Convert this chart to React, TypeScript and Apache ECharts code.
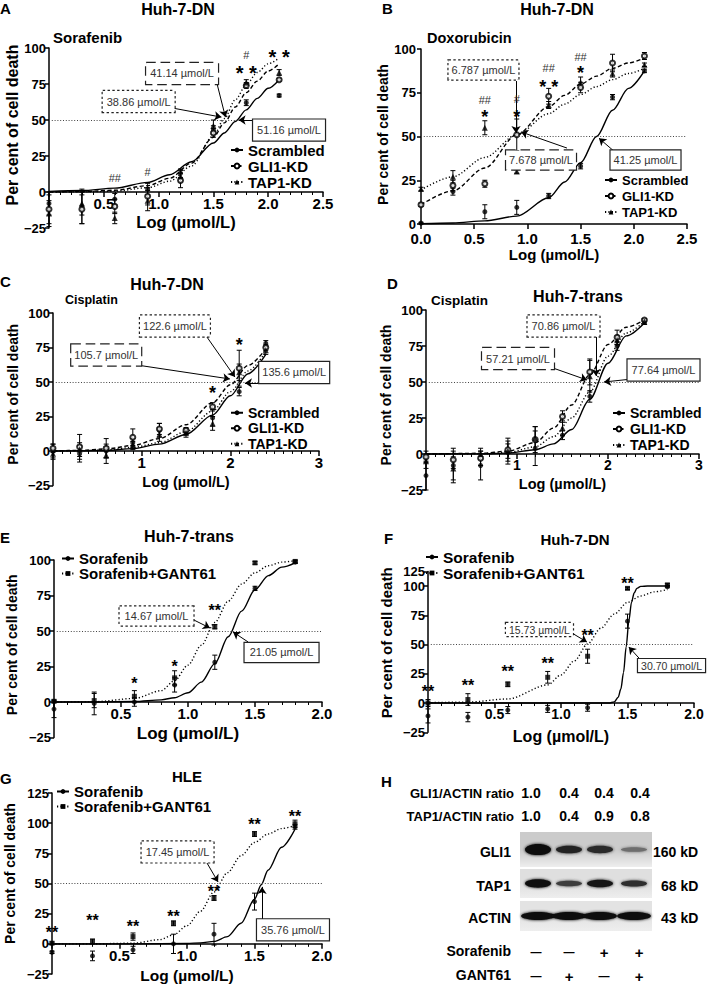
import React, { useEffect, useRef } from "react";
import * as echarts from "echarts";

const FONT = "'Liberation Sans', Arial, Helvetica, sans-serif";

// ---------- shared categories ----------
const DOSES_9 = [0, 0.3, 0.6, 0.9, 1.2, 1.5, 1.8, 2.1, 2.4];
const DOSES_8 = [0, 0.3, 0.6, 0.9, 1.2, 1.5, 1.8, 2.1];
const DOSES_7 = [0, 0.3, 0.6, 0.9, 1.2, 1.5, 1.8];
const KD_NAMES = ["Scrambled", "GLI1-KD", "TAP1-KD"];
const SORA_NAMES = ["Sorafenib", "Sorafenib+GANT61"];
const X_NAME = "Log (µmol/L)";
const Y_NAME = "Per cent of cell death";

// ---------- Panel A: Sorafenib, Huh-7-DN ----------
const A_SCR = [-8, -10, -5, 2, 13, 43, 62, 67];
const A_SCR_SD = [8, 12, 4, 4, 3, 3, 2, 1];
const A_GLI = [-12, -12, -10, -3, 8, 41, 74, 78];
const A_GLI_SD = [10, 10, 5, 6, 5, 3, 2, 1];
const A_TAP = [-15, -8, -18, -6, 11, 46, 76, 83];
const A_TAP_SD = [9, 8, 4, 7, 4, 4, 2, 2];
const A_FIT_X = [0, 0.3, 0.6, 0.9, 1.1, 1.3, 1.5, 1.6, 1.7, 1.8, 1.9, 2.0, 2.1];
const A_FIT_SCR = [0.4, 1, 2.7, 6.7, 12, 21, 34, 41, 49, 57, 65, 72, 78];
const A_FIT_GLI = [0, 0.3, 1.2, 4.4, 9.5, 20, 38, 48, 59, 69, 77, 84, 89];
const A_FIT_TAP = [0, 0.1, 0.6, 3, 7.5, 18, 39, 51, 64, 74.5, 83, 89, 93];
const A_IC50 = ["51.16 µmol/L", "41.14 µmol/L", "38.86 µmol/L"];
const A_SIG: [number, number, string][] = [
  [0.6, 10, "##"], [0.9, 14, "#"], [1.8, 95, "#"], [1.8, 86, "* *"], [2.1, 104, "##"], [2.1, 97, "* *"],
];

// ---------- Panel B: Doxorubicin, Huh-7-DN ----------
const B_SCR = [0.5, 18.5, 7, 9.5, 16, 33, 72.5, 87.5];
const B_SCR_SD = [0.5, 2, 4, 4, 1.5, 1.5, 1.5, 1];
const B_GLI = [11, 22, 23, 51, 73, 78, 92, 96];
const B_GLI_SD = [1, 3, 2, 9, 4.5, 3, 5, 2];
const B_TAP = [20, 27, 55, 30, 68, 81, 86, 91];
const B_TAP_SD = [1, 3.5, 4, 1, 2, 3, 2, 1];
const B_FIT_X = [0, 0.3, 0.6, 0.9, 1.2, 1.35, 1.5, 1.65, 1.8, 1.95, 2.1];
const B_FIT_SCR = [0.2, 0.6, 1.8, 4.5, 15, 24, 35, 50, 65, 77.5, 87.5];
const B_FIT_GLI = [11, 19, 32, 51, 67, 73.5, 80, 84.5, 89, 92, 95];
const B_FIT_TAP = [19.5, 27, 38, 51, 63, 68.5, 74, 78.5, 82.5, 86, 89];
const B_IC50 = ["41.25 µmol/L", "7.678 µmol/L", "6.787 µmol/L"];
const B_SIG: [number, number, string][] = [
  [0.6, 71, "##"], [0.6, 64, "*"], [0.9, 71.5, "#"], [0.9, 64, "*"],
  [1.2, 89, "##"], [1.2, 81, "* *"], [1.5, 95.5, "##"], [1.5, 89, "*"],
  [1.8, 109, "##"], [1.8, 102, "*"], [2.1, 109, "##"], [2.1, 102, "*"],
];

// ---------- Panel C: Cisplatin, Huh-7-DN ----------
const C_SCR = [0, -2, 0, 6, 15, 14, 24, 43, 78];
const C_SCR_SD = [5, 6, 5, 3, 5, 2, 6, 3, 2];
const C_GLI = [2, 3, 2, 10, 16, 15, 32, 60, 75];
const C_GLI_SD = [3, 9, 7, 6, 4, 2, 3, 13, 2];
const C_TAP = [-2, 1, -3, 4, 12, 13, 20, 57, 73];
const C_TAP_SD = [4, 5, 6, 3, 5, 3, 5, 6, 3];
const C_FIT_X = [0, 0.3, 0.6, 0.9, 1.2, 1.5, 1.8, 2.0, 2.2, 2.4];
const C_FIT_SCR = [0, 0.1, 0.4, 1.7, 5, 12, 26, 40, 56, 70];
const C_FIT_GLI = [0.1, 0.4, 1.5, 4, 9, 19, 35, 48, 62, 74];
const C_FIT_TAP = [0, 0.2, 0.9, 2.6, 6, 14, 29, 43, 58, 72];
const C_IC50 = ["135.6 µmol/L", "105.7 µmol/L", "122.6 µmol/L"];
const C_SIG: [number, number, string][] = [[1.8, 45.6, "*"], [2.1, 80, "*"]];

// ---------- Panel D: Cisplatin, Huh-7-trans ----------
const D_SCR = [-15, -8, -8, 1, 4, 13, 40, 75, 92];
const D_SCR_SD = [10, 12, 10, 8, 12, 3, 4, 3, 2];
const D_GLI = [-2, -4, -3, 3, 10, 26, 57, 81, 93];
const D_GLI_SD = [4, 6, 5, 8, 9, 4, 9, 5, 1];
const D_TAP = [-5, -10, 0, 2, 11, 18, 54, 79, 92];
const D_TAP_SD = [5, 8, 4, 5, 8, 5, 11, 3, 2];
const D_FIT_X = [0, 0.6, 0.9, 1.2, 1.4, 1.6, 1.8, 2.0, 2.2, 2.4];
const D_FIT_SCR = [0, 0.1, 0.6, 3, 7, 17, 38, 63, 82, 91];
const D_FIT_GLI = [0, 0.5, 2, 8, 18, 34, 55, 76, 88, 93];
const D_FIT_TAP = [0, 0.2, 1, 5, 12, 25, 43, 68, 84, 92];
const D_IC50 = ["77.64 µmol/L", "57.21 µmol/L", "70.86 µmol/L"];
const D_SIG: [number, number, string][] = [];

// ---------- Panel E: Huh-7-trans, Sorafenib ± GANT61 ----------
const E_SOR = [-5, -1, 0, 12, 28, 80, 98.5];
const E_SOR_SD = [6, 8, 3, 5, 5, 1.5, 1];
const E_GAN = [0.5, 1, 4, 17, 53, 98, 99];
const E_GAN_SD = [1, 5, 4, 5, 1.5, 1, 1];
const E_FIT_X = [0, 0.3, 0.6, 0.8, 0.9, 1.0, 1.1, 1.2, 1.3, 1.4, 1.5, 1.6, 1.7, 1.8];
const E_FIT_SOR = [0, 0, 0.3, 1.5, 3, 6.5, 14, 27, 46, 64, 79, 89, 95, 98];
const E_FIT_GAN = [0, 0.2, 2.5, 8, 15, 26, 40, 56, 71, 83, 91, 96, 98.5, 99.5];
const E_IC50 = ["21.05 µmol/L", "14.67 µmol/L"];
const E_SIG: [number, number, string][] = [
  [0.6, 15.5, "*"], [0.9, 27.5, "*"], [1.2, 67, "**"], [1.5, 108, "**"], [1.8, 108, "**"],
];

// ---------- Panel F: Huh-7-DN, Sorafenib ± GANT61 ----------
const F_SOR = [-11, -12, -6, -5, -4, 70, 99.5];
const F_SOR_SD = [6, 4, 3, 3, 3, 6, 1];
const F_GAN = [0, 3, 16, 22, 40, 98, 101];
const F_GAN_SD = [3, 5, 2, 5, 6, 1, 1];
const F_FIT_SOR_X = [0, 0.6, 1.2, 1.36, 1.4, 1.43, 1.45, 1.47, 1.49, 1.51, 1.53, 1.55, 1.57, 1.6, 1.65, 1.8];
const F_FIT_SOR = [0, 0, 0, 0, 1, 5, 12, 26, 48, 70, 86, 94, 98, 99.7, 100, 100];
const F_FIT_GAN_X = [0, 0.3, 0.6, 0.9, 1.0, 1.1, 1.2, 1.3, 1.4, 1.5, 1.6, 1.7, 1.8];
const F_FIT_GAN = [0.3, 0.8, 3.5, 15.5, 24, 36, 50.5, 64, 76, 86, 91.5, 95, 97];
const F_IC50 = ["30.70 µmol/L", "15.73 µmol/L"];
const F_SIG: [number, number, string][] = [
  [0, 13, "**"], [0.3, 18, "**"], [0.6, 30, "**"], [0.9, 37, "**"], [1.2, 61, "**"], [1.5, 106, "**"], [1.8, 114, "**"],
];
const F_Y_TICKS = [-25, 0, 25, 50, 75, 100, 112.5];

// ---------- Panel G: HLE, Sorafenib ± GANT61 ----------
const G_SOR = [-7, -10, -5, 0, 8, 35, 97];
const G_SOR_SD = [1, 4, 3, 8, 9, 7, 2];
const G_GAN = [0.5, 2, 6, 17, 38, 91, 99.5];
const G_GAN_SD = [1, 2, 3, 2, 2, 2, 3];
const G_FIT_SOR_X = [0, 0.6, 1.0, 1.1, 1.2, 1.3, 1.4, 1.5, 1.55, 1.6, 1.7, 1.8];
const G_FIT_SOR = [0, 0, 0.3, 0.8, 2, 6, 17, 37, 49, 61, 80, 95];
const G_FIT_GAN_X = [0, 0.3, 0.6, 0.8, 0.9, 1.0, 1.1, 1.2, 1.3, 1.4, 1.5, 1.6, 1.7, 1.8];
const G_FIT_GAN = [0, 0, 0.5, 3.5, 7.5, 15, 27, 43, 59, 73, 84, 91, 95.5, 98];
const G_IC50 = ["35.76 µmol/L", "17.45 µmol/L"];
const G_SIG: [number, number, string][] = [
  [0, 13, "**"], [0.3, 22.5, "**"], [0.6, 18, "**"], [0.9, 26, "**"], [1.2, 47, "**"], [1.5, 102.5, "**"], [1.8, 109, "**"],
];

// ---------- Panel H: western blot ----------
const H_GLI1_RATIO = ["1.0", "0.4", "0.4", "0.4"];
const H_TAP1_RATIO = ["1.0", "0.4", "0.9", "0.8"];
const H_SORAFENIB = ["\u2014", "\u2014", "+", "+"];
const H_GANT61 = ["\u2014", "+", "\u2014", "+"];
const H_GLI1_BAND = [1.0, 0.72, 0.68, 0.3];
const H_TAP1_BAND = [0.95, 0.55, 0.85, 0.65];
const H_ACTIN_BAND = [1, 1, 1, 1];

// ---------- styles / layout (not data) ----------
const LINE_TYPES: Record<string, any> = { solid: "solid", dashed: [4, 2.5], dotted: [1.2, 2.2] };
const KD_STYLE = [
  { symbol: "circle", size: 5, line: "solid" },
  { symbol: "emptyCircle", size: 5, line: "dashed" },
  { symbol: "triangle", size: 6, line: "dotted" },
];
const SORA_STYLE = [
  { symbol: "circle", size: 5, line: "solid" },
  { symbol: "rect", size: 5, line: "dotted" },
];

const zip = (xs: number[], ys: number[]) => xs.map((x, i) => [x, ys[i]]);

const PANELS: any[] = [
  {
    key: "A", grid: { left: 49, top: 48, width: 274, height: 180 },
    x: { min: 0, max: 2.5, interval: 0.5, minor: 5, hideZero: true, digits: 1, font: 15, nameFont: 16.5, nameGap: 21, margin: 4 },
    y: { min: -25, max: 100, interval: 25, nameFont: 16, nameGap: 28, shift: 13, margin: 3 },
    names: KD_NAMES, styles: KD_STYLE,
    groups: [
      { d: DOSES_8, v: A_SCR, sd: A_SCR_SD, fx: A_FIT_X, fy: A_FIT_SCR },
      { d: DOSES_8, v: A_GLI, sd: A_GLI_SD, fx: A_FIT_X, fy: A_FIT_GLI },
      { d: DOSES_8, v: A_TAP, sd: A_TAP_SD, fx: A_FIT_X, fy: A_FIT_TAP },
    ],
    legend: { left: 230, top: 142, font: 15, lh: 16 },
    ic50: A_IC50,
    boxes: [
      { at: [2.19, 43], from: [1.89, 50], to: [1.73, 50] },
      { at: [1.214, 82.3], from: [1.536, 74.3], to: [1.61, 52] },
      { at: [0.818, 62.8], from: [1.127, 58.3], to: [1.573, 52] },
    ],
    sig: A_SIG, starFont: 20, boxPad: [5, 4], boxFont: 11,
  },
  {
    key: "B", grid: { left: 421, top: 49, width: 266, height: 175 },
    x: { min: 0, max: 2.5, interval: 0.5, minor: 0, hideZero: false, digits: 1, font: 15, nameFont: 15, nameGap: 18, margin: 7 },
    y: { min: 0, max: 100, interval: 25, nameFont: 14, nameGap: 28, shift: 2, margin: 5 },
    names: KD_NAMES, styles: KD_STYLE,
    groups: [
      { d: DOSES_8, v: B_SCR, sd: B_SCR_SD, fx: B_FIT_X, fy: B_FIT_SCR },
      { d: DOSES_8, v: B_GLI, sd: B_GLI_SD, fx: B_FIT_X, fy: B_FIT_GLI },
      { d: DOSES_8, v: B_TAP, sd: B_TAP_SD, fx: B_FIT_X, fy: B_FIT_TAP },
    ],
    legend: { left: 604, top: 172, font: 13, lh: 16 },
    ic50: B_IC50,
    boxes: [
      { at: [2.11, 36.6], from: [1.833, 40.6], to: [1.673, 49] },
      { at: [1.128, 36.6], from: [1.372, 43.4], to: [0.94, 52.6] },
      { at: [0.587, 88], from: [0.893, 81.7], to: [0.893, 52] },
    ],
    sig: B_SIG, starFont: 18, boxPad: [4, 3], boxFont: 11,
  },
  {
    key: "C", grid: { left: 53, top: 313, width: 266, height: 172.5 },
    x: { min: 0, max: 3, interval: 1, minor: 10, hideZero: true, digits: 0, font: 15, nameFont: 14.5, nameGap: 23, margin: 4 },
    y: { min: -25, max: 100, interval: 25, nameFont: 14, nameGap: 33, shift: 5, margin: 3 },
    names: KD_NAMES, styles: KD_STYLE,
    groups: [
      { d: DOSES_9, v: C_SCR, sd: C_SCR_SD, fx: C_FIT_X, fy: C_FIT_SCR },
      { d: DOSES_9, v: C_GLI, sd: C_GLI_SD, fx: C_FIT_X, fy: C_FIT_GLI },
      { d: DOSES_9, v: C_TAP, sd: C_TAP_SD, fx: C_FIT_X, fy: C_FIT_TAP },
    ],
    legend: { left: 230, top: 405, font: 14, lh: 15.5 },
    ic50: C_IC50,
    boxes: [
      { at: [2.72, 56.9], from: [2.356, 49.3], to: [2.165, 49.3] },
      { at: [0.6, 69.6], from: [0.947, 62.3], to: [1.995, 52.2] },
      { at: [1.375, 90.6], from: [1.736, 82.6], to: [2.052, 53.6] },
    ],
    sig: C_SIG, starFont: 18, boxPad: [5, 3], boxFont: 11,
  },
  {
    key: "D", grid: { left: 426, top: 310, width: 273, height: 180 },
    x: { min: 0, max: 3, interval: 1, minor: 10, hideZero: true, digits: 0, font: 14, nameFont: 14.5, nameGap: 22, margin: 4 },
    y: { min: -25, max: 100, interval: 25, nameFont: 14, nameGap: 33, shift: 5, margin: 3 },
    names: KD_NAMES, styles: KD_STYLE,
    groups: [
      { d: DOSES_9, v: D_SCR, sd: D_SCR_SD, fx: D_FIT_X, fy: D_FIT_SCR },
      { d: DOSES_9, v: D_GLI, sd: D_GLI_SD, fx: D_FIT_X, fy: D_FIT_GLI },
      { d: DOSES_9, v: D_TAP, sd: D_TAP_SD, fx: D_FIT_X, fy: D_FIT_TAP },
    ],
    legend: { left: 612, top: 405, font: 14, lh: 16 },
    ic50: D_IC50,
    boxes: [
      { at: [2.61, 58.3], from: [2.253, 52], to: [1.956, 50] },
      { at: [1.011, 66.3], from: [1.396, 59.7], to: [1.769, 51.4] },
      { at: [1.511, 88.9], from: [1.868, 81.25], to: [1.868, 54.2] },
    ],
    sig: D_SIG, starFont: 18, boxPad: [5, 4], boxFont: 11,
  },
  {
    key: "E", grid: { left: 54, top: 560, width: 268, height: 177.5 },
    x: { min: 0, max: 2, interval: 0.5, minor: 5, hideZero: true, digits: 1, font: 15, nameFont: 17, nameGap: 23, margin: 4 },
    y: { min: -25, max: 100, interval: 25, nameFont: 14, nameGap: 35, shift: 4, margin: 3 },
    names: SORA_NAMES, styles: SORA_STYLE,
    groups: [
      { d: DOSES_7, v: E_SOR, sd: E_SOR_SD, fx: E_FIT_X, fy: E_FIT_SOR },
      { d: DOSES_7, v: E_GAN, sd: E_GAN_SD, fx: E_FIT_X, fy: E_FIT_GAN },
    ],
    legend: { left: 61, top: 551, font: 15, lh: 15 },
    ic50: E_IC50,
    boxes: [
      { at: [1.698, 34.9], from: [1.448, 42.3], to: [1.336, 49.3] },
      { at: [0.765, 60.6], from: [1.045, 57.7], to: [1.164, 52.1] },
    ],
    sig: E_SIG, starFont: 16, boxPad: [4, 5], boxFont: 11,
  },
  {
    key: "F", grid: { left: 428, top: 571.4, width: 266, height: 160.9 },
    x: { min: 0, max: 2, interval: 0.5, minor: 5, hideZero: true, digits: 1, font: 14, nameFont: 16, nameGap: 25, margin: 4 },
    y: { min: -25, max: 112.5, custom: F_Y_TICKS, nameFont: 15, nameGap: 34, shift: 9, margin: 3 },
    names: SORA_NAMES, styles: SORA_STYLE,
    groups: [
      { d: DOSES_7, v: F_SOR, sd: F_SOR_SD, fx: F_FIT_SOR_X, fy: F_FIT_SOR },
      { d: DOSES_7, v: F_GAN, sd: F_GAN_SD, fx: F_FIT_GAN_X, fy: F_FIT_GAN },
    ],
    legend: { left: 425, top: 549, font: 15.5, lh: 15 },
    ic50: F_IC50,
    boxes: [
      { at: [1.831, 32], from: [1.6, 36.75], to: [1.51, 47.9] },
      { at: [0.838, 62.8], from: [1.083, 59.8], to: [1.195, 52.1] },
    ],
    sig: F_SIG, starFont: 16, boxPad: [1, 3], boxFont: 10.5,
  },
  {
    key: "G", grid: { left: 52, top: 793, width: 270, height: 181 },
    x: { min: 0, max: 2, interval: 0.5, minor: 5, hideZero: true, digits: 1, font: 15, nameFont: 15.5, nameGap: 24, margin: 4 },
    y: { min: -25, max: 125, interval: 25, nameFont: 14, nameGap: 35, shift: 10, margin: 3 },
    names: SORA_NAMES, styles: SORA_STYLE,
    groups: [
      { d: DOSES_7, v: G_SOR, sd: G_SOR_SD, fx: G_FIT_SOR_X, fy: G_FIT_SOR },
      { d: DOSES_7, v: G_GAN, sd: G_GAN_SD, fx: G_FIT_GAN_X, fy: G_FIT_GAN },
    ],
    legend: { left: 56, top: 784, font: 15, lh: 15 },
    ic50: G_IC50,
    boxes: [
      { at: [1.785, 11.6], from: [1.556, 19.9], to: [1.556, 47.2] },
      { at: [0.93, 76.2], from: [1.148, 67], to: [1.23, 51.3] },
    ],
    sig: G_SIG, starFont: 16, boxPad: [5, 4], boxFont: 11,
  },
];

const BOLD = { fontWeight: "bold" as const, fontFamily: FONT, color: "#000" };

function renderErr(params: any, api: any) {
  const x = api.value(0);
  const y = api.value(1);
  const e = api.value(2);
  const hi = api.coord([x, y + e]);
  const lo = api.coord([x, y - e]);
  const cw = 2.5;
  const st = { stroke: "#000", lineWidth: 1 };
  return {
    type: "group",
    children: [
      { type: "line", shape: { x1: hi[0], y1: hi[1], x2: lo[0], y2: lo[1] }, style: st },
      { type: "line", shape: { x1: hi[0] - cw, y1: hi[1], x2: hi[0] + cw, y2: hi[1] }, style: st },
      { type: "line", shape: { x1: lo[0] - cw, y1: lo[1], x2: lo[0] + cw, y2: lo[1] }, style: st },
    ],
  };
}

function fmtY(v: number) {
  if (v === 112.5) return "125";
  return v < 0 ? "\u2212" + Math.abs(v) : String(v);
}

function buildOption() {
  const grid: any[] = [];
  const xAxis: any[] = [];
  const yAxis: any[] = [];
  const series: any[] = [];
  const legend: any[] = [];

  PANELS.forEach((p, i) => {
    grid.push({ ...p.grid, containLabel: false });
    // the x axis (line, ticks and labels) sits on y = 0, as in the source figure
    const zeroOffset = p.y.min < 0 ? -p.grid.height * (0 - p.y.min) / (p.y.max - p.y.min) : 0;
    xAxis.push({
      gridIndex: i, type: "value", min: p.x.min, max: p.x.max, interval: p.x.interval,
      offset: zeroOffset,
      axisLine: { onZero: false, lineStyle: { color: "#000", width: 1.5 } },
      axisTick: { show: true, length: 5, lineStyle: { color: "#000", width: 1.5 } },
      minorTick: { show: p.x.minor > 0, splitNumber: p.x.minor || 5, length: 3, lineStyle: { color: "#000", width: 1 } },
      splitLine: { show: false },
      axisLabel: {
        ...BOLD, fontSize: p.x.font, margin: p.x.margin,
        formatter: (v: number) => (p.x.hideZero && v === 0 ? "" : v.toFixed(p.x.digits)),
      },
      name: X_NAME, nameLocation: "middle", nameGap: p.x.nameGap,
      nameTextStyle: { ...BOLD, fontSize: p.x.nameFont },
    });
    const yTickCustom = p.y.custom ? { customValues: p.y.custom } : {};
    yAxis.push({
      gridIndex: i, type: "value", min: p.y.min, max: p.y.max,
      ...(p.y.interval ? { interval: p.y.interval } : {}),
      axisLine: { show: true, onZero: false, lineStyle: { color: "#000", width: 1.5 } },
      axisTick: { show: true, length: 4, lineStyle: { color: "#000", width: 1.5 }, ...yTickCustom },
      splitLine: { show: false },
      axisLabel: { ...BOLD, fontSize: 13, margin: p.y.margin, formatter: fmtY, ...yTickCustom },
      name: Y_NAME, nameLocation: "middle", nameGap: p.y.nameGap, nameRotate: 90,
      nameTextStyle: { ...BOLD, fontSize: p.y.nameFont, padding: [0, 0, 0, 2 * p.y.shift] },
    });
    legend.push({
      data: p.names, orient: "vertical", left: p.legend.left, top: p.legend.top,
      itemWidth: 12, itemHeight: 6, itemGap: 0, selectedMode: false, padding: 0,
      textStyle: { ...BOLD, fontSize: p.legend.font, lineHeight: p.legend.lh },
    });

    p.groups.forEach((g: any, k: number) => {
      const st = p.styles[k];
      const nm = p.names[k];
      series.push({
        type: "line", name: nm, xAxisIndex: i, yAxisIndex: i,
        data: zip(g.fx, g.fy), smooth: 0.3, smoothMonotone: "x",
        showSymbol: false, symbol: st.symbol, symbolSize: st.size,
        lineStyle: { color: "#000", width: 1.4, type: LINE_TYPES[st.line] },
        itemStyle: { color: "#000" }, silent: true, z: 3, clip: false,
      });
      series.push({
        type: "scatter", name: `${p.key}-${nm}-points`, xAxisIndex: i, yAxisIndex: i,
        data: zip(g.d, g.v), symbol: st.symbol, symbolSize: st.size,
        itemStyle: { color: "#000", borderColor: "#000", borderWidth: st.symbol === "emptyCircle" ? 1 : 0 },
        silent: true, z: 4, clip: false,
      });
      series.push({
        type: "custom", name: `${p.key}-${nm}-sd`, xAxisIndex: i, yAxisIndex: i,
        data: g.d.map((d: number, j: number) => [d, g.v[j], g.sd[j]]),
        renderItem: renderErr, silent: true, z: 2,
      });
    });

    // 50 % reference line
    series.push({
      type: "line", name: `${p.key}-half`, xAxisIndex: i, yAxisIndex: i, data: [], symbol: "none",
      markLine: {
        silent: true, symbol: ["none", "none"], label: { show: false },
        lineStyle: { color: "#444", width: 1, type: [1, 1.8] },
        data: [{ yAxis: 50 }],
      },
    });

    // IC50 boxes, arrows and significance marks
    const kinds = p.styles.map((s: any) => s.line);
    const boxItems = p.boxes.map((b: any, k: number) => ({
      name: p.ic50[k], coord: b.at,
      label: {
        show: true, position: "inside", formatter: "{b}", fontSize: p.boxFont, fontFamily: FONT, color: "#333",
        backgroundColor: "#fff", borderColor: "#222", borderWidth: 1.2,
        borderType: kinds[k], padding: p.boxPad,
      },
    }));
    const sigItems = p.sig.map((s: [number, number, string]) => {
      const star = s[2].indexOf("*") >= 0;
      return {
        name: s[2], coord: [s[0], s[1]],
        label: star
          ? { show: true, position: "inside", formatter: "{b}", fontSize: p.starFont, fontWeight: "bold", fontFamily: FONT, color: "#000", offset: [0, p.starFont * 0.25] }
          : { show: true, position: "inside", formatter: "{b}", fontSize: 11, fontFamily: FONT, color: "#333" },
      };
    });
    series.push({
      type: "line", name: `${p.key}-annot`, xAxisIndex: i, yAxisIndex: i, data: [], symbol: "none", z: 10,
      markLine: {
        silent: true, symbol: ["none", "arrow"], symbolSize: 7, label: { show: false },
        lineStyle: { color: "#000", width: 1, type: "solid" },
        data: p.boxes.map((b: any) => [{ coord: b.from }, { coord: b.to }]),
      },
      markPoint: {
        silent: true, symbol: "circle", symbolSize: 0, itemStyle: { color: "transparent" },
        data: [...sigItems, ...boxItems],
      },
    });
  });

  return { animation: false, backgroundColor: "#fff", grid, xAxis, yAxis, legend, series, graphic: buildGraphic() };
}

function txt(text: string, x: number, y: number, size: number, align = "left", weight = "bold") {
  return {
    type: "text", x, y, silent: true,
    style: { text, fontSize: size, fontWeight: weight, fontFamily: FONT, fill: "#000", align, verticalAlign: "middle" },
  };
}

function buildGraphic() {
  const els: any[] = [
    // panel letters
    txt("A", 0, 8, 15), txt("B", 382, 8, 15), txt("C", 0, 281, 15), txt("D", 387, 283, 15),
    txt("E", 0, 537, 15), txt("F", 384, 538, 15), txt("G", 0, 778, 15), txt("H", 381, 781, 15),
    // titles
    txt("Huh-7-DN", 178, 9, 16, "center"), txt("Huh-7-DN", 557, 9, 16, "center"),
    txt("Huh-7-DN", 167, 284, 16, "center"), txt("Huh-7-trans", 578, 296, 16, "center"),
    txt("Huh-7-trans", 189, 536, 16, "center"), txt("Huh-7-DN", 575, 539, 15, "center"),
    txt("HLE", 187, 776, 15, "center"),
    // drug names
    txt("Sorafenib", 53, 37, 15), txt("Doxorubicin", 427, 38, 14.5),
    txt("Cisplatin", 65, 300, 12.5), txt("Cisplatin", 431, 300, 13.5),
  ];

  // ---- panel H ----
  const labelX = [531, 569, 604, 640];
  const bandX = [538, 569, 600, 634];
  els.push(txt("GLI1/ACTIN ratio", 514, 793, 13, "right"));
  els.push(txt("TAP1/ACTIN ratio", 514, 816, 13, "right"));
  H_GLI1_RATIO.forEach((t, k) => els.push(txt(t, labelX[k], 793, 14, "center")));
  H_TAP1_RATIO.forEach((t, k) => els.push(txt(t, labelX[k], 816, 14, "center")));

  const blots = [
    { name: "GLI1", kd: "160 kD", kdX: 653, y: 832, h: 35, bg: "#cbcbcb", band: H_GLI1_BAND, hScale: 3.6, rx: 13 },
    { name: "TAP1", kd: "68 kD", kdX: 661, y: 869, h: 29, bg: "#dfdfdf", band: H_TAP1_BAND, hScale: 2.4, rx: 13 },
    { name: "ACTIN", kd: "43 kD", kdX: 661, y: 901, h: 30, bg: "#e3e3e3", band: H_ACTIN_BAND, hScale: 2.0, rx: 17 },
  ];
  blots.forEach((b) => {
    const cy = b.y + b.h / 2;
    els.push({
      type: "rect", silent: true, shape: { x: 520, y: b.y, width: 132, height: b.h },
      style: {
        fill: new echarts.graphic.LinearGradient(0, 0, 0, 1, [
          { offset: 0, color: b.bg }, { offset: 0.5, color: b.bg }, { offset: 1, color: "#eeeeee" },
        ]),
      },
    });
    b.band.forEach((s, k) => {
      const g = Math.round(10 + 170 * Math.pow(1 - s, 1.5));
      const col = `rgb(${g},${g},${g})`;
      els.push({
        type: "ellipse", silent: true,
        shape: { cx: bandX[k], cy, rx: b.rx, ry: 2 + b.hScale * s * s },
        style: { fill: col, shadowBlur: 3, shadowColor: col },
      });
    });
    els.push(txt(b.name, 511, cy + 2, 14, "right"));
    els.push(txt(b.kd, b.kdX, cy + 2, 14, "left"));
  });

  els.push(txt("Sorafenib", 511, 951, 14, "right"));
  els.push(txt("GANT61", 511, 975, 14, "right"));
  const signX = [536, 569, 604, 639];
  H_SORAFENIB.forEach((t, k) => els.push(txt(t, signX[k], 952, t === "+" ? 15 : 11, "center")));
  H_GANT61.forEach((t, k) => els.push(txt(t, signX[k], 976, t === "+" ? 15 : 11, "center")));
  return els;
}

export default function App() {
  const ref = useRef<HTMLDivElement>(null);
  useEffect(() => {
    if (!ref.current) return;
    const chart = echarts.init(ref.current, null, { renderer: "svg", width: 709, height: 986 });
    chart.setOption(buildOption() as any);
    return () => chart.dispose();
  }, []);
  return (
    <div
      ref={ref}
      style={{ position: "absolute", left: 0, top: 0, width: 709, height: 986, background: "#fff" }}
    />
  );
}
